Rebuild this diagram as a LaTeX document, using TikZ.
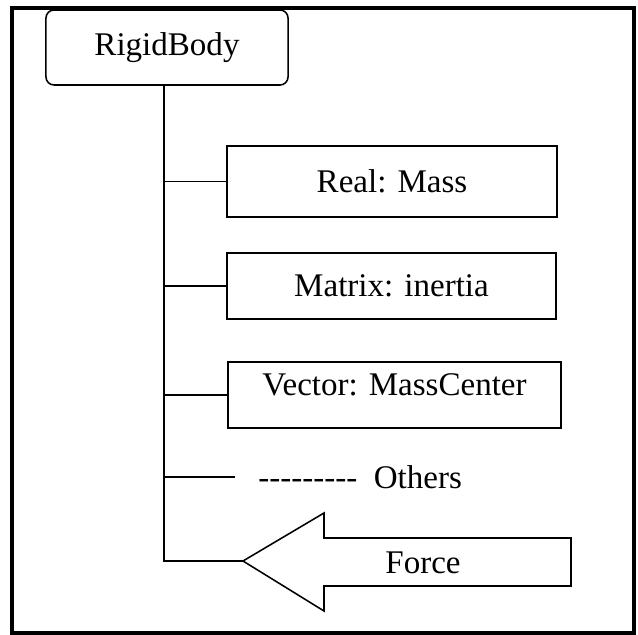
\documentclass[tikz,border=0pt]{standalone}
\usepackage{fontspec}
\setmainfont{Liberation Serif}
\usepackage{tikz}
\usetikzlibrary{positioning}

\begin{document}
\begin{tikzpicture}[x=0.025cm,y=-0.025cm,
	font=\fontsize{23.5pt}{28pt}\selectfont,
	box/.style={draw,line width=1.1pt,inner sep=0pt,minimum height=1.65cm},
	link/.style={line width=1.1pt}]
	\useasboundingbox (0,0) rectangle (638,635);
	\draw[line width=2.2pt] (12,8) rectangle (634,633);
	
	\node[box,rounded corners=0.2cm,minimum width=6.05cm,minimum height=1.875cm] (body) at (167,47.5) {RigidBody};
	\node[box,minimum width=8.25cm,minimum height=1.775cm] (mass) at (392,181.5) {Real: Mass};
	\node[box,minimum width=8.225cm] (inertia) at (391.5,286) {Matrix: inertia};
	\node[box,minimum width=8.325cm] (vec) at (394.5,395) {};
	\node (veclabel) at (394.5,385) {Vector: MassCenter};
	
	\coordinate (trunk) at (164,85);
	\coordinate (oend) at (235,477);
	\node[anchor=west,inner sep=0pt] (others) at (258,477) {-{}-{}-{}-{}-{}-{}-{}-{}-\ \ Others};
	
	% force arrow
	\coordinate (forcetip) at (243,561);
	\draw[link] (forcetip) -- (324,513) -- (324,538) -- (571,538) -- (571,586) -- (324,586) -- (324,611) -- cycle;
	\node (force) at (423,563) {Force};
	
	\draw[link] (trunk) |- (forcetip);
	\draw[link] (trunk |- mass.west) -- (mass.west);
	\draw[link] (trunk |- inertia.west) -- (inertia.west);
	\draw[link] (trunk |- vec.west) -- (vec.west);
	\draw[link] (trunk |- oend) -- (oend);
	
\end{tikzpicture}
\end{document}
